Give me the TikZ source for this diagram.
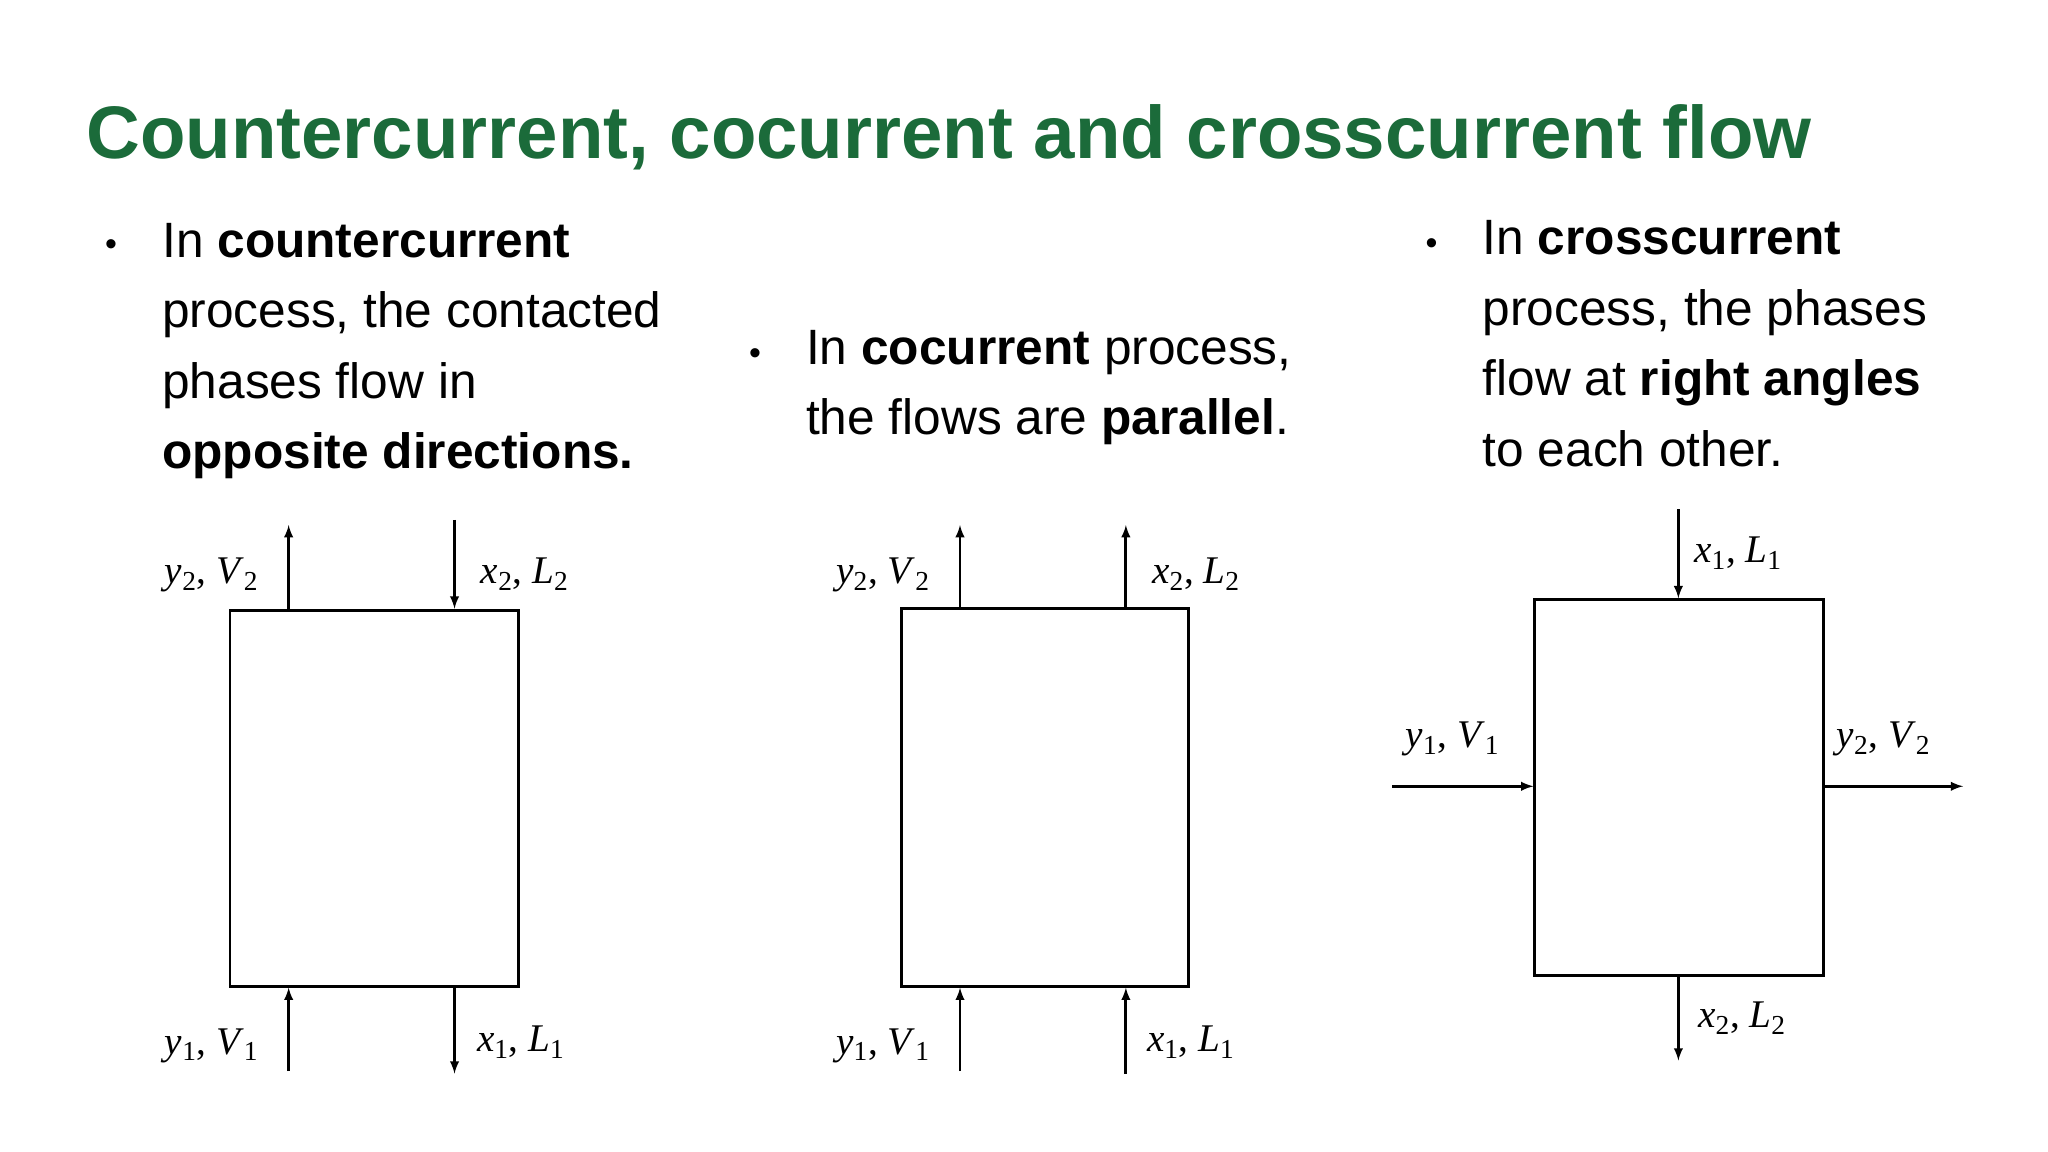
\documentclass[tikz,border=0pt]{standalone}
\usepackage{fontspec}
\setmainfont{Liberation Sans}
\newfontfamily\serifit{Liberation Serif}
\definecolor{titlegreen}{HTML}{1B6B3A}
\begin{document}
\begin{tikzpicture}[x=1pt,y=-1pt,
  txt/.style={anchor=base west,inner sep=0,font=\fontsize{38}{44}\selectfont},
  bul/.style={anchor=base,inner sep=0,font=\fontsize{26}{30}\selectfont},
  lab/.style={inner sep=0,font=\fontsize{30}{34}\selectfont},
  boxs/.style={draw,line width=2.2pt},
  arr/.style={-latex,line width=2.2pt}]
\useasboundingbox[fill=white] (0,0) rectangle (1568,882);
\node[anchor=base west,inner sep=0,text=titlegreen,font=\fontsize{57}{64}\selectfont\bfseries] (title) at (66,121) {Countercurrent, cocurrent and crosscurrent flow};
% column 1
\node[bul] (b1) at (85,196) {•};
\node[txt] (t11) at (124,197) {In \textbf{countercurrent}};
\node[txt] (t12) at (124,251) {process, the contacted};
\node[txt] (t13) at (124,305) {phases flow in};
\node[txt] (t14) at (124,359) {\textbf{opposite directions.}};
% column 2
\node[bul] (b2) at (578,279) {•};
\node[txt] (t21) at (617,279) {In \textbf{cocurrent} process,};
\node[txt] (t22) at (617,333) {the flows are \textbf{parallel}.};
% column 3
\node[bul] (b3) at (1096,195) {•};
\node[txt] (t31) at (1135,195) {In \textbf{crosscurrent}};
\node[txt] (t32) at (1135,249) {process, the phases};
\node[txt] (t33) at (1135,303) {flow at \textbf{right angles}};
\node[txt] (t34) at (1135,357) {to each other.};
% boxes
\node[boxs,minimum width=221,minimum height=288,anchor=north west] (B1) at (175,466) {};
\node[boxs,minimum width=220,minimum height=289,anchor=north west] (B2) at (689,465) {};
\node[boxs,minimum width=221,minimum height=288,anchor=north west] (B3) at (1174,458) {};
% box1 arrows
\coordinate (a1) at (221,402); \coordinate (a2) at (348,398);
\coordinate (a3) at (221,820); \coordinate (a4) at (348,822);
\draw[arr] (B1.north west -| a1) -- (a1);
\draw[arr] (a2) -- (B1.north west -| a2);
\draw[arr] (a3) -- (B1.south west -| a3);
\draw[arr] (B1.south west -| a4) -- (a4);
% box2 arrows
\coordinate (c1) at (735,402); \coordinate (c2) at (862,402);
\coordinate (c3) at (735,820); \coordinate (c4) at (862,822);
\draw[arr] (B2.north west -| c1) -- (c1);
\draw[arr] (B2.north west -| c2) -- (c2);
\draw[arr] (c3) -- (B2.south west -| c3);
\draw[arr] (c4) -- (B2.south west -| c4);
% box3 arrows
\coordinate (d1) at (1285,390); \coordinate (d2) at (1285,812);
\coordinate (d3) at (1066,602); \coordinate (d4) at (1503,602);
\draw[arr] (d1) -- (B3.north west -| d1);
\draw[arr] (B3.south west -| d2) -- (d2);
\draw[arr] (d3) -- (B3.north west |- d3);
\draw[arr] (B3.north east |- d4) -- (d4);
% labels
\newcommand{\fl}[4]{\serifit\textit{#1}\textsubscript{#2}, \textit{#3}\textsubscript{#4}}
\node[lab,anchor=base east] (l1) at (198,447) {\fl{y}{2}{V}{2}};
\node[lab,anchor=base west] (l2) at (368,447) {\fl{x}{2}{L}{2}};
\node[lab,anchor=base east] (l3) at (198,807) {\fl{y}{1}{V}{1}};
\node[lab,anchor=base west] (l4) at (365,805) {\fl{x}{1}{L}{1}};
\node[lab,anchor=base east] (l5) at (712,447) {\fl{y}{2}{V}{2}};
\node[lab,anchor=base west] (l6) at (882,447) {\fl{x}{2}{L}{2}};
\node[lab,anchor=base east] (l7) at (712,807) {\fl{y}{1}{V}{1}};
\node[lab,anchor=base west] (l8) at (878,805) {\fl{x}{1}{L}{1}};
\node[lab,anchor=base west] (l9) at (1297,431) {\fl{x}{1}{L}{1}};
\node[lab,anchor=base east] (l10) at (1148,572) {\fl{y}{1}{V}{1}};
\node[lab,anchor=base west] (l11) at (1406,572) {\fl{y}{2}{V}{2}};
\node[lab,anchor=base west] (l12) at (1300,787) {\fl{x}{2}{L}{2}};
\end{tikzpicture}
\end{document}
